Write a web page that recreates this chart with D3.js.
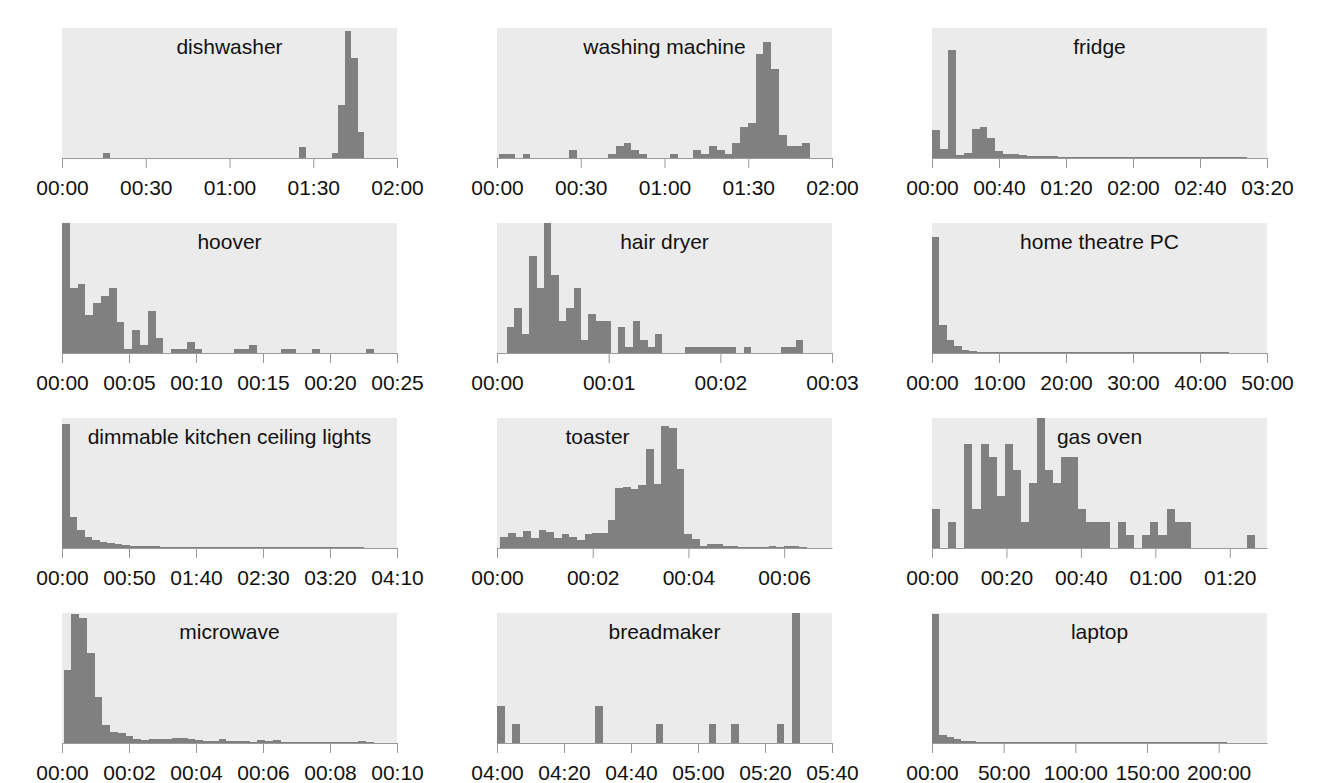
<!DOCTYPE html>
<html>
<head>
<meta charset="utf-8">
<script src="https://cdn.jsdelivr.net/npm/d3@7"></script>
<style>
  body { margin: 0; background: #fff; }
  svg { display: block; font-family: "Liberation Sans", Arial, Helvetica, sans-serif; }
</style>
</head>
<body>
<div id="chart"></div>
<script>
// appliance names, one panel each (row by row)
const appliances = [
  "dishwasher", "washing machine", "fridge",
  "hoover", "hair dryer", "home theatre PC",
  "dimmable kitchen ceiling lights", "toaster", "gas oven",
  "microwave", "breadmaker", "laptop"
];

// x axis tick labels (HH:MM)
const xTickLabels = [
  ["00:00", "00:30", "01:00", "01:30", "02:00"],
  ["00:00", "00:30", "01:00", "01:30", "02:00"],
  ["00:00", "00:40", "01:20", "02:00", "02:40", "03:20"],
  ["00:00", "00:05", "00:10", "00:15", "00:20", "00:25"],
  ["00:00", "00:01", "00:02", "00:03"],
  ["00:00", "10:00", "20:00", "30:00", "40:00", "50:00"],
  ["00:00", "00:50", "01:40", "02:30", "03:20", "04:10"],
  ["00:00", "00:02", "00:04", "00:06"],
  ["00:00", "00:20", "00:40", "01:00", "01:20"],
  ["00:00", "00:02", "00:04", "00:06", "00:08", "00:10"],
  ["04:00", "04:20", "04:40", "05:00", "05:20", "05:40"],
  ["00:00", "50:00", "100:00", "150:00", "200:00"]
];

// x domain of each panel, in minutes
const xDomains = [
  [0, 120], [0, 120], [0, 200],
  [0, 25], [0, 3], [0, 3000],
  [0, 250], [0, 7], [0, 90],
  [0, 10], [240, 340], [0, 14023]
];

// histogram range (shortest, longest activation) in minutes; 40 bins each
const binRanges = [
  [14.7, 108.3], [0.84, 112.1], [0.2, 188],
  [0, 23.3], [0.09, 2.74], [0, 2663],
  [0, 225], [0.07, 6.48], [0, 86.9],
  [0.05, 9.3], [240, 330.3], [0, 12348]
];

// top of the count axis
const yTops = [24.6, 33.6, 3860, 34, 20, 3890, 3890, 389, 10, 389, 7, 3890];

// bin counts
const dishwasher = [1,0,0,0,0,0,0,0,0,0, 0,0,0,0,0,0,0,0,0,0, 0,0,0,0,0,0,0,0,0,0, 2,0,0,0,0,1,10,24,19,5];
const washingMachine = [1,1,0,1,0,0,0,0,0,2, 0,0,0,0,1,3,4,2,1,0, 0,0,1,0,0,2,1,3,2,1, 4,8,9,27,30,23,6,3,3,4];
const fridge = [820,260,3210,100,160,860,930,600,220,130, 120,100,70,60,50,45,42,40,40,38, 38,36,36,35,35,35,34,34,33,33, 33,32,32,32,32,31,31,31,30,30];
const hoover = [34,17,18,10,13,15,17,8,1,6, 2,11,4,0,1,1,3,1,0,0, 0,0,1,1,2,0,0,0,1,1, 0,0,1,0,0,0,0,0,0,1];
const hairDryer = [4,7,3,15,10,20,12,5,7,10, 2,6,5,5,0,4,1,5,2,1, 3,0,0,0,1,1,1,1,1,1, 1,0,1,0,0,0,0,1,1,2];
const homeTheatrePC = [3460,840,390,210,100,45,42,40,40,38, 38,37,37,36,36,35,35,35,34,34, 34,34,33,33,33,33,33,32,32,32, 32,32,32,32,31,31,31,31,31,31];
const kitchenLights = [3720,920,540,320,240,190,150,120,90,70, 60,52,46,42,40,38,37,36,36,35, 35,35,34,34,34,33,33,33,33,32, 32,32,32,32,31,31,31,31,31,31];
const toaster = [32,46,34,51,29,54,49,29,41,32, 25,42,46,46,85,179,184,176,189,297, 193,366,358,236,41,28,5,11,11,6, 6,3,3,3,3,6,3,6,6,3];
const gasOven = [3,0,2,0,8,3,8,7,4,8, 6,2,5,10,6,5,7,7,3,2, 2,2,0,2,1,0,1,2,1,3, 2,2,0,0,0,0,0,0,0,1];
const microwave = [219,386,374,269,137,54,34,29,22,12, 10,13,13,11,14,14,11,9,7,7, 11,7,7,7,4,8,6,8,4,3, 3,4,3,3,3,3,3,3,6,3];
const breadmaker = [2,0,1,0,0,0,0,0,0,0, 0,0,0,2,0,0,0,0,0,0, 0,1,0,0,0,0,0,0,1,0, 0,1,0,0,0,0,0,1,0,7];
const laptop = [3860,240,170,110,60,45,40,40,38,38, 37,37,36,36,36,35,35,35,34,34, 34,34,33,33,33,33,33,32,32,32, 32,32,32,32,31,31,31,31,31,31];

const counts = [dishwasher, washingMachine, fridge, hoover, hairDryer, homeTheatrePC,
  kitchenLights, toaster, gasOven, microwave, breadmaker, laptop];

const width = 1340, height = 783;
const panelW = 335, panelH = 130;
const left0 = 62, colStep = 435, top0 = 28, rowStep = 195;

const parseHM = s => { const p = s.split(":").map(Number); return p[0] * 60 + p[1]; };

const svg = d3.select("#chart").append("svg")
  .attr("width", width)
  .attr("height", height);

appliances.forEach((name, i) => {
  const r = Math.floor(i / 3), c = i % 3;
  const g = svg.append("g")
    .attr("transform", `translate(${left0 + c * colStep},${top0 + r * rowStep})`);

  const x = d3.scaleLinear().domain(xDomains[i]).range([0, panelW]);
  const y = d3.scaleLinear().domain([0, yTops[i]]).range([panelH, 0]);

  g.append("rect")
    .attr("width", panelW)
    .attr("height", panelH)
    .attr("fill", "#ebebeb");

  const lo = binRanges[i][0], hi = binRanges[i][1];
  const vals = counts[i];
  const bw = (hi - lo) / vals.length;
  const bins = vals.map((v, k) => ({ x0: lo + k * bw, x1: lo + (k + 1) * bw, v: v }))
    .filter(d => d.v > 0);

  g.selectAll("rect.bar")
    .data(bins)
    .join("rect")
    .attr("class", "bar")
    .attr("x", d => x(d.x0))
    .attr("width", d => x(d.x1) - x(d.x0))
    .attr("y", d => y(d.v))
    .attr("height", d => panelH - y(d.v))
    .attr("fill", "#808080")
    .attr("shape-rendering", "crispEdges");

  const labels = xTickLabels[i];
  const axis = d3.axisBottom(x)
    .tickValues(labels.map(parseHM))
    .tickFormat((d, k) => labels[k])
    .tickSize(10)
    .tickSizeOuter(0)
    .tickPadding(12);

  const ax = g.append("g")
    .attr("transform", `translate(0,${panelH})`)
    .call(axis);
  ax.select(".domain").attr("stroke", "#9a9a9a");
  ax.selectAll(".tick line").attr("stroke", "#9a9a9a");
  ax.selectAll(".tick text")
    .attr("fill", "#111")
    .style("font-size", "21px")
    .style("font-family", "'Liberation Sans', Arial, Helvetica, sans-serif");

  // toaster title sits left of its peak
  const shift = name === "toaster" ? -67 : 0;
  g.append("text")
    .attr("x", panelW / 2 + shift)
    .attr("y", 26)
    .attr("text-anchor", "middle")
    .attr("fill", "#111")
    .style("font-size", "21px")
    .text(name);
});
</script>
</body>
</html>
